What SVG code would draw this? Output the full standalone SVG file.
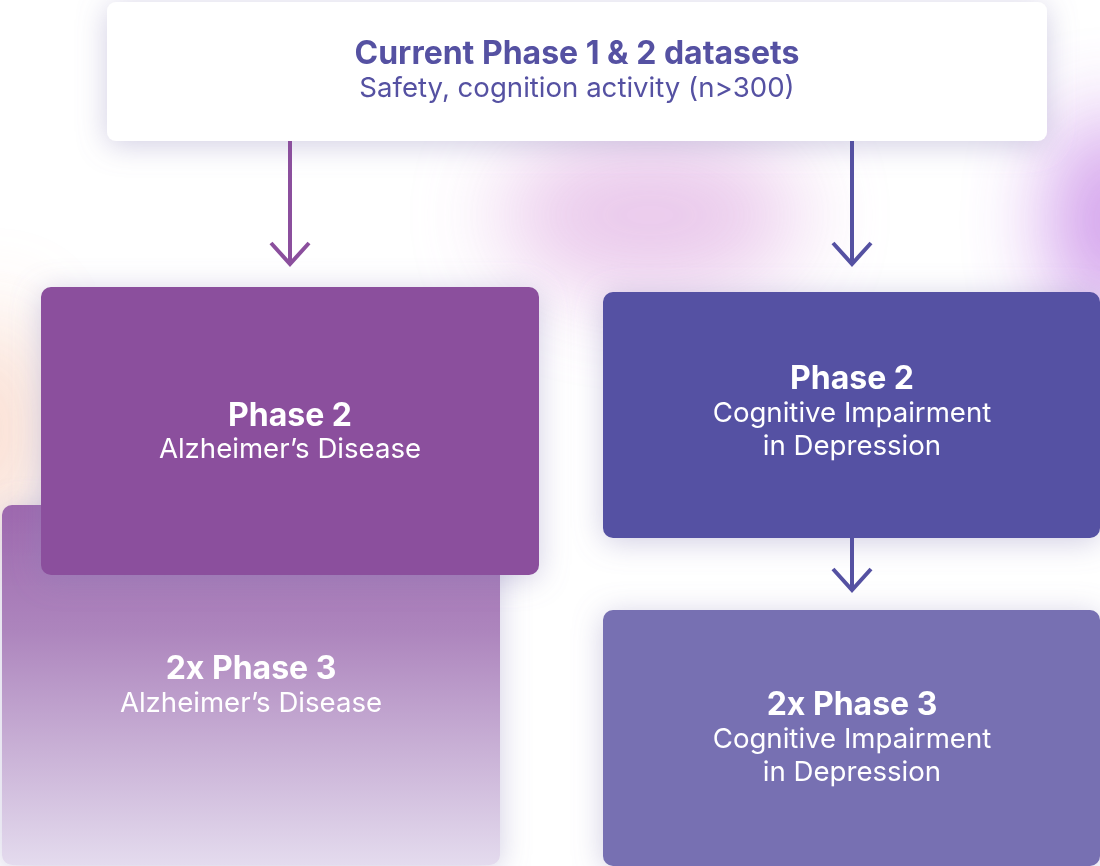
<svg xmlns="http://www.w3.org/2000/svg" width="1100" height="866" viewBox="0 0 1100 866">
<defs>
<style>
.t{font-family:Inter,"Noto Sans",sans-serif;text-anchor:middle}
.b{font-weight:700;font-size:32px}
.r{font-weight:400;font-size:27.6px}
.w{fill:#ffffff}
.p{fill:#5551a2}
.con{fill:none;stroke-width:4}
</style>
<filter id="sh" x="-20%" y="-30%" width="140%" height="160%">
<feGaussianBlur in="SourceAlpha" stdDeviation="15"/>
<feOffset dy="4" result="b"/>
<feFlood flood-color="#8a82b8" flood-opacity="0.4"/>
<feComposite in2="b" operator="in"/>
<feMerge><feMergeNode/><feMergeNode in="SourceGraphic"/></feMerge>
</filter>
<filter id="glow" x="-100%" y="-100%" width="300%" height="300%">
<feGaussianBlur stdDeviation="45"/>
</filter>
<linearGradient id="g3" x1="0" y1="0" x2="0" y2="1">
<stop offset="0" stop-color="#9d68ae"/>
<stop offset="0.35" stop-color="#ad85bd"/>
<stop offset="1" stop-color="#e4dbee"/>
</linearGradient>
</defs>
<rect width="1100" height="866" fill="#ffffff"/>
<g id="background">
<ellipse cx="650" cy="215" rx="150" ry="80" fill="#e6bfe8" opacity="0.85" filter="url(#glow)"/>
<ellipse cx="1110" cy="220" rx="55" ry="105" fill="#c685e6" opacity="0.9" filter="url(#glow)"/>
<ellipse cx="-10" cy="430" rx="35" ry="120" fill="#f6c6b0" opacity="0.9" filter="url(#glow)"/>
</g>
<g id="node-top" filter="url(#sh)">
<rect x="107" y="2" width="940" height="139" rx="9" fill="#ffffff"/>
<text class="t b p" x="577" y="64">Current Phase 1 &amp; 2 datasets</text>
<text class="t r p" x="577" y="97">Safety, cognition activity (n&gt;300)</text>
</g>
<g id="node-ad-phase3" filter="url(#sh)">
<rect x="2" y="505" width="498" height="360" rx="10" fill="url(#g3)"/>
<text class="t b w" x="251" y="679">2x Phase 3</text>
<text class="t r w" x="251" y="712">Alzheimer’s Disease</text>
</g>
<g id="node-ad-phase2" filter="url(#sh)">
<rect x="41" y="287" width="498" height="288" rx="10" fill="#8b4f9d"/>
<text class="t b w" x="290" y="426">Phase 2</text>
<text class="t r w" x="290" y="458">Alzheimer’s Disease</text>
</g>
<g id="node-cid-phase2" filter="url(#sh)">
<rect x="603" y="292" width="497" height="246" rx="10" fill="#5551a3"/>
<text class="t b w" x="852" y="389">Phase 2</text>
<text class="t r w" x="852" y="422">Cognitive Impairment</text>
<text class="t r w" x="852" y="455">in Depression</text>
</g>
<g id="node-cid-phase3" filter="url(#sh)">
<rect x="603" y="610" width="497" height="256" rx="10" fill="#7770b2"/>
<text class="t b w" x="852" y="715">2x Phase 3</text>
<text class="t r w" x="852" y="748">Cognitive Impairment</text>
<text class="t r w" x="852" y="781">in Depression</text>
</g>
<g id="connectors">
<path class="con" stroke="#8b4f9d" d="M290 141V264M271 243L290 264L309 243"/>
<path class="con" stroke="#5551a2" d="M852 141V264M833 243L852 264L871 243"/>
<path class="con" stroke="#5551a2" d="M852 538V590M833 569L852 590L871 569"/>
</g>
</svg>
